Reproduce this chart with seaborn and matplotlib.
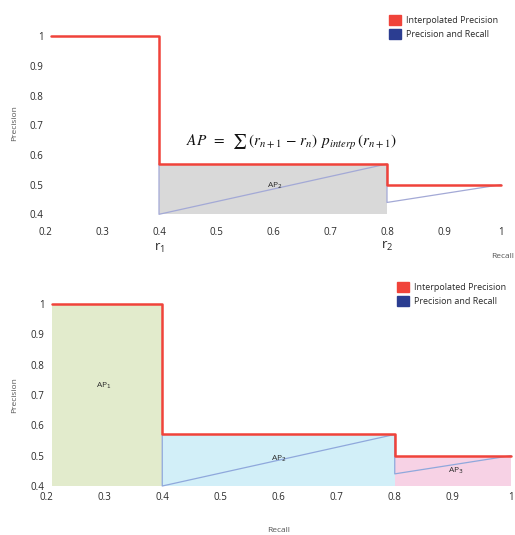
import numpy as np
import pandas as pd
import seaborn as sns
from matplotlib import pyplot as plt
from matplotlib.patches import Patch

# Data
interp_recall = [0.21, 0.4, 0.8, 1.0]
interp_precision = [1.0, 0.57, 0.5, 0.5]

pr_recall = [0.4, 0.4, 0.8, 0.8, 1.0]
pr_precision = [0.57, 0.4, 0.57, 0.44, 0.5]

x_ticks = [0.2, 0.3, 0.4, 0.5, 0.6, 0.7, 0.8, 0.9, 1.0]
x_tick_labels = ["0.2", "0.3", "0.4", "0.5", "0.6", "0.7", "0.8", "0.9", "1"]
y_ticks = [0.4, 0.5, 0.6, 0.7, 0.8, 0.9, 1.0]
y_tick_labels = ["0.4", "0.5", "0.6", "0.7", "0.8", "0.9", "1"]

area_labels = ["AP$_1$", "AP$_2$", "AP$_3$"]
area_label_pos = [(0.30, 0.73), (0.60, 0.49), (0.905, 0.45)]
legend_labels = ["Interpolated Precision", "Precision and Recall"]

RED = "#f0433a"
BLUE = "#2b3d91"
TEXT = "#2a2a2a"

sns.set_style("white")
plt.rcParams["font.family"] = ["Open Sans", "DejaVu Sans"]
plt.rcParams["mathtext.fontset"] = "stix"

fig = plt.figure(figsize=(5.15, 5.35), dpi=100)
W, H = 515, 535
ax1 = fig.add_axes([45 / W, 1 - 214.3 / H, 456 / W, 177.8 / H])
ax2 = fig.add_axes([46 / W, 1 - 486 / H, 465 / W, 182 / H])

curves_pr = pd.DataFrame({"recall": pr_recall, "precision": pr_precision})
curves_ip = pd.DataFrame({"recall": interp_recall, "precision": interp_precision})


def draw_curves(ax, pr_color):
    sns.lineplot(data=curves_pr, x="recall", y="precision", ax=ax, estimator=None,
                 sort=False, color=pr_color, lw=0.9, clip_on=False, zorder=3)
    sns.lineplot(data=curves_ip, x="recall", y="precision", ax=ax, estimator=None,
                 sort=False, drawstyle="steps-post", color=RED, lw=1.8,
                 clip_on=False, zorder=4)


def style_axes(ax, xpad):
    ax.set_xlim(0.2, 1.0)
    ax.set_ylim(0.4, 1.0)
    ax.set_xticks(x_ticks, x_tick_labels)
    ax.set_yticks(y_ticks, y_tick_labels)
    ax.tick_params(axis="x", length=0, pad=xpad, labelsize=7, labelcolor=TEXT)
    ax.tick_params(axis="y", length=0, pad=1, labelsize=7, labelcolor=TEXT)
    sns.despine(ax=ax, left=True, bottom=True)
    ax.set_xlabel("")
    ax.set_ylabel("")


# ---- top chart: AP formula with one grey area
ax1.fill_between([interp_recall[1], interp_recall[2]], 0.4, interp_precision[1],
                 color="#d9d9d9", lw=0, zorder=1)
draw_curves(ax1, "#a3a9d6")
style_axes(ax1, 9)
ax1.text(0.447, 0.643,
         r"$AP\;\;=\;\;\sum\,(r_{n+1}\,-\,r_n)\;\,p_{interp}\,(r_{n+1})$",
         fontsize=11, ha="left", va="center", color="#111111")
ax1.text(0.603, 0.496, area_labels[1], fontsize=6, ha="center", va="center",
         color=TEXT, math_fontfamily="dejavusans")
ax1.text(0.4, -0.19, r"$\mathregular{r_1}$", transform=ax1.get_xaxis_transform(),
         fontsize=9.5, ha="center", va="center", color=TEXT,
         math_fontfamily="dejavusans")
ax1.text(0.8, -0.18, r"$\mathregular{r_2}$", transform=ax1.get_xaxis_transform(),
         fontsize=9.5, ha="center", va="center", color=TEXT,
         math_fontfamily="dejavusans")
fig.text(514 / W, 1 - 256 / H, "Recall", fontsize=6, ha="right", va="center",
         color="#555555")
fig.text(15 / W, 1 - 123 / H, "Precision", fontsize=6, ha="center", va="center",
         rotation=90, color="#555555")

# ---- bottom chart: three coloured areas AP1..AP3
area_colors = ["#e2ebcc", "#d2eff8", "#f7d2e5"]
for i, c in enumerate(area_colors):
    ax2.fill_between([interp_recall[i], interp_recall[i + 1]], 0.4, interp_precision[i],
                     color=c, lw=0, zorder=1)
draw_curves(ax2, "#8fa8dc")
style_axes(ax2, 4)
for lab, (lx, ly) in zip(area_labels, area_label_pos):
    ax2.text(lx, ly, lab, fontsize=6, ha="center", va="center", color=TEXT,
             math_fontfamily="dejavusans")
fig.text(279 / W, 1 - 530 / H, "Recall", fontsize=6, ha="center", va="center",
         color="#555555")
fig.text(15 / W, 1 - 395 / H, "Precision", fontsize=6, ha="center", va="center",
         rotation=90, color="#555555")

# legends
handles = [Patch(color=RED), Patch(color=BLUE)]
for (lx, ly) in [(384, 10), (392, 277)]:
    fig.legend(handles, legend_labels, loc="upper left",
               bbox_to_anchor=(lx / W, 1 - ly / H), bbox_transform=fig.transFigure,
               frameon=False, fontsize=6.5, borderpad=0, handlelength=1.4,
               handleheight=1.4, handletextpad=0.5, labelspacing=0.4,
               labelcolor=TEXT)

fig.savefig("out.png", dpi=100)
